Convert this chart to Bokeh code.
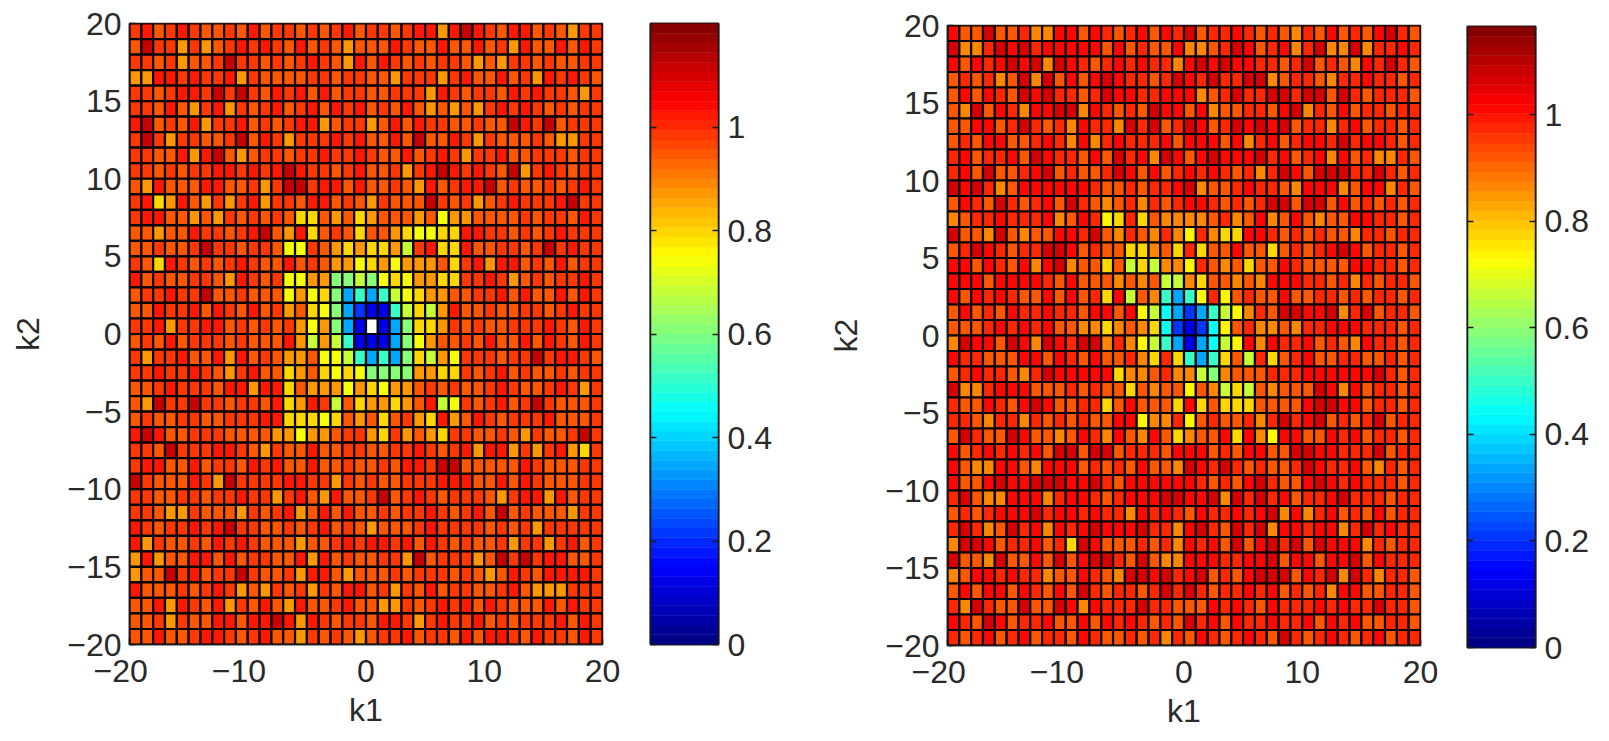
import numpy as np
from bokeh.embed import file_html
from bokeh.resources import INLINE
from bokeh.layouts import row
from bokeh.plotting import figure
from bokeh.models import ColumnDataSource, LinearColorMapper, FixedTicker, LinearAxis, Range1d

# Cell values, one code per cell, top row (k2=19..20) first
LEFT_LEVELS = {"D": 1.11, "R": 1.03, "r": 0.985, "o": 0.94, "O": 0.88, "y": 0.79, "Y": 0.74, "l": 0.68,
               "g": 0.60, "t": 0.52, "c": 0.45, "b": 0.35, "B": 0.22, "N": 0.12, "W": float("nan")}
RIGHT_LEVELS = {"D": 1.07, "R": 1.015, "r": 0.97, "o": 0.925, "O": 0.867, "y": 0.78, "Y": 0.73, "l": 0.67,
                "g": 0.59, "t": 0.51, "c": 0.44, "b": 0.345, "B": 0.215, "N": 0.118, "W": float("nan")}

left_rows = [
"rRorR rooro Rorro rorRo rrorR RORDR roRRo roOrr",
"oDrrO rOorR rRroR oroOo ooRro oRooR orORo oRoRr",
"rrorO oorDr roror RroOR oRror orroO oOrro roorr",
"OORRr RrrRO roooo rrorr ooOrr rOrRo oRorO RrRro",
"rrorR RrDrD roRrR oRorr oorrr ORror roRrR rroOr",
"rroRo OrROr orRor RoRrR oroRo OoOoO rRrRr ororr",
"RDoro ROrrR ororR ROorr OoRoR rroor ooDRr Dorrr",
"rDrOr roorD oRrOr rrRrR ooRoD ooRrO rooor oOOrr",
"rrooR ORDoO orror rRrrR rooRo rRrOr rRoor rrorr",
"rroro rrRRr RrRDR rrorR oorOr RDRrR roDOr Rrorr",
"oORoo oRRoo rOrDD rRRoR ooroO RorRR Doroo rorRr",
"rRyOR oOrOr ROrro RRoro Orooo DrorO orRrr rRDrr",
"rRRoo OoOro roroy yoOoy OoooO oYOOo oooro rroRr",
"ooOoo Rrror RDoOR yoroy ooOyY YyyRR rroro rRrrr",
"ooroo rDrro rroYY roOyO yyOlr RyyRo orror DrRrr",
"royRr ororR rooRo roOOY yOYOO OoyrR ORRor oRorr",
"Roroo rroOR rorYY OOggl gYyYO Oyyrr RrOor orrRr",
"orrRr rDoor oooYO Yygbt btlYy OOoor rRoRo oRoRr",
"ooRrr RoRro RorOo yYgbB NNtly lORoo roorr orRrr",
"rrROr rRRor ororO YOgbN WNbgy yOror oorrr RroRr",
"oroRo rrror oooRO lOltN NNbgY Oooro RooRo RroRr",
"rOrrR ooROR oroOO oYYlt btbgy lOYrr rorrD rRRro",
"rrRrr RroOr RooyO oyYyY ggggO Oyyro rRoro ororr",
"oorRr rroRR ORRyo OOOYO yYOOo roroo rRroo rRrOr",
"oODrr Drror roRyO Rrloy OOyOo RlYro rRorD rooor",
"oroor roorr rRRyy yYyoO oyorO yROoR rorrr Rooor",
"RDRoo rrroo ooOOY OOorr OyrOo Oyrro oroOr oorDr",
"rroDr rrRRr oOroo Roorr oorrR rorRO RROrO rROyr",
"rRRoo Rorro RrRoo Rooro oroRR rDDoo oooRr ooorr",
"Drooo RrODr rrrRR rrOro roorr rRRRo oRoRr ooorr",
"rroor rorrR rrOrR oORoo rDorR rorrr oOrRR ORorr",
"rroOO roooO rorRO oRoRo ororr RrorR oDoro ooOrr",
"Rrorr RrRDr rooro rRoro Oooor Rrrrr ororO rrrrr",
"ROroo roRrR roooO oorRr RRrRo Rroro orOrr OrRor",
"OROoo RRoRo rrooR ORoro orrOD orrrO oDrDr RRoor",
"OooDr RorrD roorO RRoOo ooror rroro OoRro RRRRr",
"Rooor orRrO oOror OroRR orOro Rorro orRoO OOrrr",
"ooROR roROr oRoOR oorRo oOOro rRrRo Rrooo RoRrr",
"oorOr ooRRo RRDRO Rrorr oRRrO rRrrR ororr rRoRr",
"ooRoo rRRro rRooO roroO orrRo rroRo RRroR rroRr",
]

right_rows = [
"RooDo orOOR RoRro rRoRr DorrR roroO roRor oRDro",
"DOOrD RDrRR RRRoR orooR OOorD RorRO rDOOD OrrRr",
"RoRrR DRDOD RrorR rRrrO RDRDR Rrror DoroO RrDro",
"ororO oDODo RoRDR rrorD RrDrr DDOor roOrr Rrror",
"oRoRr oDRDr rorDR RrrRR ROorD rrDDr DDoDr orrro",
"oODoR rORRD DORro roDRR oROoo rroRD OroRo rrorr",
"ooRRo rDror ORrrO DrDor DRorD RDRDo rrOrR orror",
"oroRR oorRr OROrR rrrRo RRRoR OrRor RRrDr RRror",
"rRorr RoDRr roRoD rRODR oRDRR RDrRo rRORo rOOro",
"rRoDo orRDo roorD RoRor RrRro rOrDR oDDDr rDror",
"DRDrO oRRRR RRroo rorrR DOoor RrroO RRROo RROro",
"oRroD rorRo DroOo rOror RRror orDDo DDoRo roror",
"OorrR rrrRO oRrYy ryoOO OOorO oROoR oOooR Rrror",
"DooOD oOooR RrDoO roOrO YrOyy RRror orooO rrorr",
"orDRr orrDD Roroo yyOoy ryooR ooyor orRDR orror",
"RRoRr oRORD Oooyo lylOO YroOo yooRr ooooR Rrror",
"RRRoR RRRro RoooO oOoll OyooO oORRR rrorO rorro",
"RoRrR rooRo RoryR loOtb tYrYo rooRo orror orror",
"oRoro RrrRr roRRo RYlcb BbtlY OroDD RRDOr Dorro",
"ooorR rRrRo oOOyO oOycB NBcYo rOOoO rrRRR rrror",
"ODRRo DRODR rDDOr OYltb NbclY RORrr RoroO Rrror",
"Rrroo oRRoR roRoo rOyry tbtyo lryor Roorr ooror",
"orRrr oOrDR RRRRy OOorO OlgOo oorrr RRRRR RDror",
"DOOrR RRooo roroo yoOoo YoOly loOoo oDROR orror",
"rooRr oRDRo orryo Roooy Ryoyy yoooo RDDRR orror",
"rroOr rOror orooR RYOOr Yoroo rOrDr RDoro rDorr",
"oDroo DRooO oRrOR oORoy OooRy ROYRR ooRrR orror",
"RorRr RrRoD DoDDo rrroR RRoro RRooD DRRrr rDorr",
"RoOOR RoORR Roror oRooO DRrDr oroor DRrrR oOror",
"RooRD RRDDD RRDro RRRRR Rroro RDroo RDRrR rrror",
"rDoOO RRROr RRror RRRDD RRDOD rDrRo rrRDr rrorr",
"ororR RRDrR RrRrr ORrRr oRrrR rRDOR OrRor oRorr",
"rDrOo DrROR rRDRR RDrrO RDroD rDORR rRROr DrRrr",
"ODDRo rrRor yDRoo ororO RrRoD oRDrD oDRRR Ororr",
"DooOD ooRoD oRDDr oDoOO RRRrr RRDoR RoRRD oRrrr",
"OoRRr RrrOo oRroO DDRDr RDoro RDDDo RrDOD rOrro",
"oRoRR oRroR oDror rorDr Drorr RrRor orORR oorro",
"rODro oDooD RORrr rDrro ooRrR roRrr rRrRr rDrro",
"RroDR orrRo oRoRr Rroro DrRoR rrRrr RoRrR oorro",
"rorRo rRorr oRroo rorOr oRror RroDr orRro rRorr",
]

x_ticks = [-20, -10, 0, 10, 20]
y_ticks = [-20, -15, -10, -5, 0, 5, 10, 15, 20]
bar_ticks = [0, 0.2, 0.4, 0.6, 0.8, 1]
bar_labels = ["0", "0.2", "0.4", "0.6", "0.8", "1"]
left_cmax = 1.2
right_cmax = 1.166
x_title = "k1"
y_title = "k2"

FONT = "Liberation Sans"
TICK_PX = "32px"
TEXT = "#2a2a2a"


def jet(n=64):
    f = (np.arange(n) + 0.5) / n
    r = np.clip(np.minimum(4 * f - 1.5, -4 * f + 4.5), 0, 1)
    g = np.clip(np.minimum(4 * f - 0.5, -4 * f + 3.5), 0, 1)
    b = np.clip(np.minimum(4 * f + 0.5, -4 * f + 2.5), 0, 1)
    return ["#%02x%02x%02x" % (int(a * 255), int(c * 255), int(d * 255)) for a, c, d in zip(r, g, b)]


PALETTE = jet()


def minus(v):
    return str(v).replace("-", "\u2212")


def minus_x(v):
    # the reference's negative x labels sit a little left of their ticks
    return minus(v) + ("\u00a0\u00a0" if v < 0 else "")


def style(ax):
    ax.axis_line_color = "#1a1a1a"
    ax.axis_line_width = 1.5
    ax.major_tick_line_color = "#1a1a1a"
    ax.major_tick_line_width = 1.5
    ax.major_tick_in = 6
    ax.major_tick_out = 0
    ax.minor_tick_line_color = None
    ax.major_label_text_font = FONT
    ax.major_label_text_font_size = TICK_PX
    ax.major_label_text_color = TEXT
    ax.axis_label_text_font = FONT
    ax.axis_label_text_font_size = TICK_PX
    ax.axis_label_text_font_style = "normal"
    ax.axis_label_text_color = TEXT


def blank_axis(p, ticks, side):
    ax = LinearAxis(ticker=FixedTicker(ticks=ticks))
    style(ax)
    ax.major_label_overrides = {t: "" for t in ticks}
    ax.major_label_standoff = 0
    p.add_layout(ax, side)


def panel(rows, levels, cmax, fw, fh, left, right, top, standoff_y):
    cells = [c for r in rows for c in r.replace(" ", "")]
    assert len(cells) == 1600, len(cells)
    n = 40
    k1 = np.tile(np.arange(-20, 20), n)
    k2 = np.repeat(np.arange(19, -21, -1), n)
    vals = [levels[c] for c in cells]
    src = ColumnDataSource(dict(l=k1, r=k1 + 1, b=k2, t=k2 + 1, v=vals))
    mapper = LinearColorMapper(palette=PALETTE, low=0, high=cmax, nan_color="#ffffff")
    p = figure(frame_width=fw, frame_height=fh, x_range=Range1d(-20, 20), y_range=Range1d(-20, 20),
               output_backend="svg", toolbar_location=None, min_border_left=left, min_border_right=right,
               min_border_top=top, min_border_bottom=10, background_fill_color="#ffffff", frame_align=False)
    p.quad(left="l", right="r", bottom="b", top="t", source=src,
           fill_color={"field": "v", "transform": mapper}, line_color="#000000", line_width=2.2)
    p.grid.visible = False
    p.outline_line_color = "#1a1a1a"
    p.outline_line_width = 1.5
    p.xaxis.ticker = FixedTicker(ticks=x_ticks)
    p.yaxis.ticker = FixedTicker(ticks=y_ticks)
    p.xaxis.major_label_overrides = {t: minus_x(t) for t in x_ticks}
    p.yaxis.major_label_overrides = {t: minus(t) for t in y_ticks}
    for ax in (p.xaxis[0], p.yaxis[0]):
        style(ax)
    p.xaxis.axis_label = x_title
    p.yaxis.axis_label = y_title
    p.xaxis.major_label_standoff = 8
    p.yaxis.major_label_standoff = 8
    p.xaxis.axis_label_standoff = 0
    p.yaxis.axis_label_standoff = standoff_y
    return p


def colorbar(cmax, fw, fh, left, right, top):
    edges = np.linspace(0, cmax, 65)
    src = ColumnDataSource(dict(b=edges[:-1], t=edges[1:], c=PALETTE))
    p = figure(frame_width=fw, frame_height=fh, x_range=Range1d(0, 1), y_range=Range1d(0, cmax),
               output_backend="svg", toolbar_location=None, x_axis_type=None, y_axis_location="right",
               min_border_left=left, min_border_right=right, min_border_top=top, min_border_bottom=40,
               frame_align=False)
    p.quad(left=0, right=1, bottom="b", top="t", source=src, fill_color="c", line_color="c", line_width=0.5)
    p.grid.visible = False
    p.outline_line_color = "#1a1a1a"
    p.outline_line_width = 2
    p.yaxis.ticker = FixedTicker(ticks=bar_ticks)
    p.yaxis.major_label_overrides = dict(zip(bar_ticks, bar_labels))
    style(p.yaxis[0])
    p.yaxis.major_label_standoff = 9
    blank_axis(p, bar_ticks, "left")
    return p


fig_a = panel(left_rows, LEFT_LEVELS, left_cmax, 473, 621, 129, 38, 23, 18)
bar_a = colorbar(left_cmax, 68, 621, 10, 72, 23)
fig_b = panel(right_rows, RIGHT_LEVELS, right_cmax, 473, 620, 157, 40, 25, 18)
bar_b = colorbar(right_cmax, 68, 621, 7, 66, 26)

layout = row(fig_a, bar_a, fig_b, bar_b, spacing=0)
open("out.html", "w").write(file_html(layout, INLINE))
